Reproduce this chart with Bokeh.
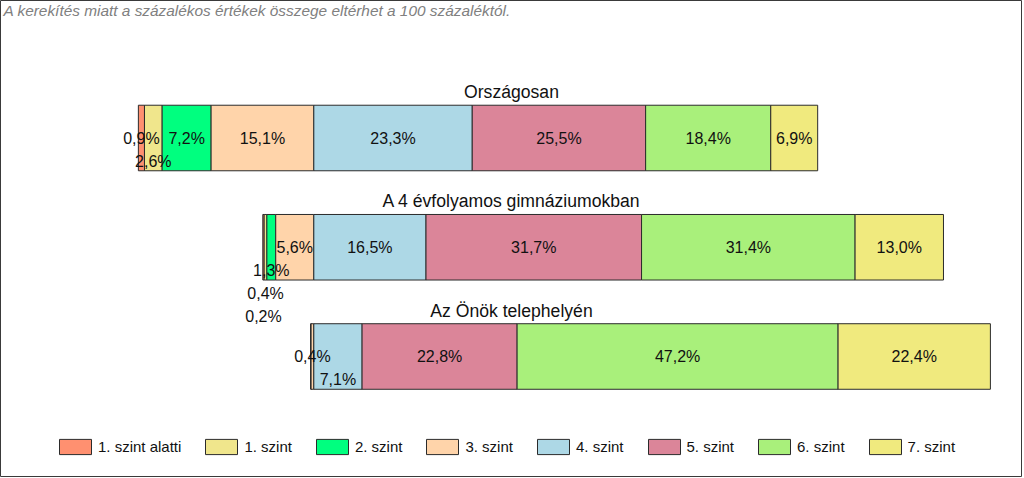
from bokeh.plotting import figure
from bokeh.models import Range1d, ColumnDataSource, Legend, LegendItem, Label
from bokeh.core.properties import value
from bokeh.embed import file_html
from bokeh.resources import INLINE

# ---------------- data ----------------
categories = ["Országosan", "A 4 évfolyamos gimnáziumokban", "Az Önök telephelyén"]
levels = ["1. szint alatti", "1. szint", "2. szint", "3. szint",
          "4. szint", "5. szint", "6. szint", "7. szint"]
orszagosan = [0.9, 2.6, 7.2, 15.1, 23.3, 25.5, 18.4, 6.9]
gimnazium = [0.2, 0.4, 1.3, 5.6, 16.5, 31.7, 31.4, 13.0]
telephely = [0.0, 0.0, 0.0, 0.4, 7.1, 22.8, 47.2, 22.4]
note = "A kerekítés miatt a  százalékos értékek összege eltérhet a 100 százaléktól."

series = [orszagosan, gimnazium, telephely]
colors = ["#FF9070", "#F0E68C", "#00FF7F", "#FFD4AA",
          "#ADD8E6", "#DB8599", "#A9F07B", "#F0EA7E"]
ANCHOR_LEVEL = 4  # bars are aligned at the start of "4. szint"

# ---------------- layout ----------------
W, H = 1022, 477
PX_PER_PCT = 6.8
ANCHOR_PX = 313.3
ROW_PX = 109.25
FIRST_ROW_PX = 137.5
BAR_H = 0.6
FONT = "Liberation Sans"
LABEL_PX = 16
LABEL_ROW_PX = 23

x0 = -ANCHOR_PX / PX_PER_PCT
x1 = (W - ANCHOR_PX) / PX_PER_PCT
y_top = -FIRST_ROW_PX / ROW_PX
y_bottom = (H - FIRST_ROW_PX) / ROW_PX

p = figure(width=W, height=H, x_range=Range1d(x0, x1), y_range=Range1d(y_bottom, y_top),
           output_backend="svg", toolbar_location=None, min_border=0,
           x_axis_location=None, y_axis_location=None)
p.grid.visible = False
p.outline_line_color = "#3a3a3a"
p.outline_line_width = 1
p.background_fill_color = "white"
p.border_fill_color = "white"

# segment extents
lefts = []
for vals in series:
    start = -sum(vals[:ANCHOR_LEVEL])
    row = []
    for v in vals:
        row.append(start)
        start += v
    lefts.append(row)

legend_items = []
for j, lev in enumerate(levels):
    src = ColumnDataSource(dict(
        y=list(range(len(categories))),
        left=[lefts[i][j] for i in range(len(categories))],
        right=[lefts[i][j] + series[i][j] for i in range(len(categories))],
    ))
    r = p.hbar(y="y", left="left", right="right", height=BAR_H, source=src,
               fill_color=colors[j], line_color="#2b2b2b", line_width=1)
    legend_items.append(LegendItem(label=lev, renderers=[r]))

# percentage labels with simple collision avoidance:
# placed outward from the anchor, first the left side, then the right side
order = list(range(ANCHOR_LEVEL - 1, -1, -1)) + list(range(ANCHOR_LEVEL, len(levels)))
lx, ly, lt = [], [], []
for i, vals in enumerate(series):
    placed = []
    for j in order:
        v = vals[j]
        if v <= 0:
            continue
        txt = f"{v:.1f}".replace(".", ",") + "%"
        cx = lefts[i][j] + v / 2
        cx_px = (cx - x0) * PX_PER_PCT
        ndig = sum(ch.isdigit() for ch in txt)
        w = LABEL_PX * (0.556 * ndig + 0.278 + 0.889) + 4
        a, b = cx_px - w / 2, cx_px + w / 2
        row = 0
        while any(r == row and not (b <= pa or a >= pb) for pa, pb, r in placed):
            row += 1
        placed.append((a, b, row))
        lx.append(cx)
        ly.append(i + row * LABEL_ROW_PX / ROW_PX)
        lt.append(txt)

p.text(x=lx, y=ly, text=lt, text_align="center", text_baseline="middle",
       text_font=value(FONT), text_font_size=value(f"{LABEL_PX}px"), text_color="#111111")

# category titles
xc = (x0 + x1) / 2
p.text(x=[xc] * len(categories), y=[i - BAR_H / 2 for i in range(len(categories))],
       text=categories, text_align="center", text_baseline="alphabetic", y_offset=-13,
       text_font=value(FONT), text_font_size=value("17.6px"), text_color="#111111")

# note
p.add_layout(Label(x=3, y=H - 1, x_units="screen", y_units="screen", text=note,
                   text_baseline="top", text_align="left", text_font=FONT,
                   text_font_style="italic", text_font_size="15.4px", text_color="#808080"))

legend = Legend(items=legend_items, orientation="horizontal", location=(55, 21),
                glyph_width=40, glyph_height=19, label_standoff=3, spacing=20,
                padding=0, margin=0, border_line_color=None, background_fill_alpha=0,
                label_text_font=FONT, label_text_font_size="15px", label_height=19,
                label_text_color="#111111")
p.add_layout(legend)

open("out.html", "w").write(file_html(p, INLINE))
